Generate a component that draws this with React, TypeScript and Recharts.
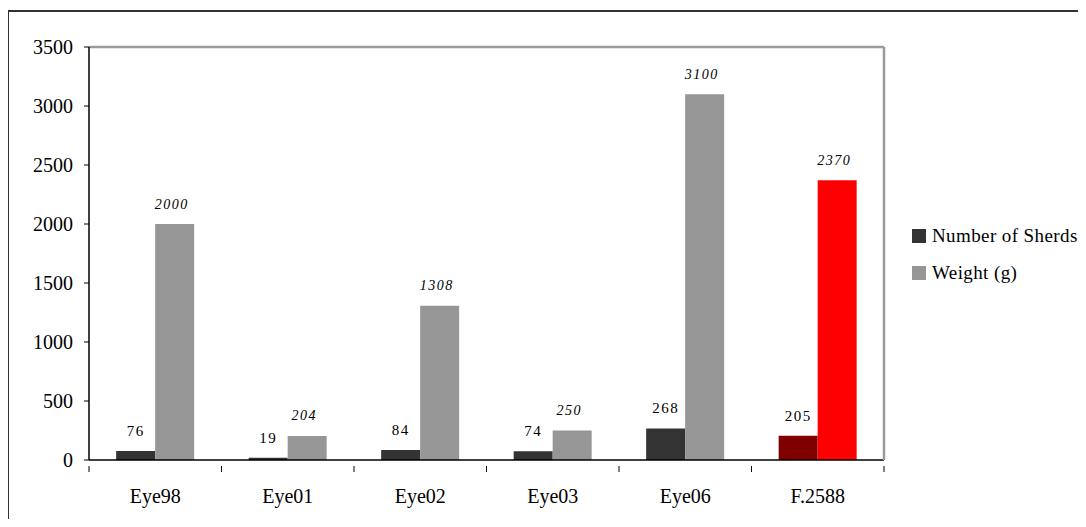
import React from 'react';
import {
  BarChart,
  Bar,
  XAxis,
  YAxis,
  Cell,
  Legend,
  LabelList,
  ReferenceLine,
} from 'recharts';

const sites = ['Eye98', 'Eye01', 'Eye02', 'Eye03', 'Eye06', 'F.2588'];
const sherdCounts = [76, 19, 84, 74, 268, 205];
const weights = [2000, 204, 1308, 250, 3100, 2370];
const yTicks = [0, 500, 1000, 1500, 2000, 2500, 3000, 3500];
const Y_MAX = 3500;

const data = sites.map((site, i) => ({
  site,
  sherds: sherdCounts[i],
  weight: weights[i],
}));

const SERIF = '"Liberation Serif", "Times New Roman", serif';
const DARK = '#333333';
const GRAY = '#969696';
const FRAME = '#9a9a9a';
// the last site is picked out in reds
const HIGHLIGHT_DARK = '#800000';
const HIGHLIGHT = '#ff0000';

interface ValueLabelProps {
  x?: number;
  y?: number;
  width?: number;
  value?: string | number;
}

const makeLabel =
  (italic: boolean, fontSize: number, dx: number) =>
  ({ x, y, width, value }: ValueLabelProps) => {
    if (x === undefined || y === undefined || width === undefined) return null;
    return (
      <text
        x={Number(x) + Number(width) / 2 + dx}
        y={Number(y) - 20}
        textAnchor="middle"
        dominantBaseline="central"
        fontFamily={SERIF}
        fontSize={fontSize}
        fontStyle={italic ? 'italic' : 'normal'}
        letterSpacing={1.5}
        fill="#000"
      >
        {value}
      </text>
    );
  };

const SherdLabel = makeLabel(false, 15, 0);
const WeightLabel = makeLabel(true, 14, -3);

interface SiteTickProps {
  x?: number;
  y?: number;
  index?: number;
  visibleTicksCount?: number;
  payload?: { value: string; offset?: number };
}

// category name under the band, with tick marks on the band edges
const SiteTick = ({ x, y, index, visibleTicksCount, payload }: SiteTickProps) => {
  if (x === undefined || y === undefined || !payload) return null;
  const half = payload.offset ?? 0;
  const isLast = index === (visibleTicksCount ?? 0) - 1;
  return (
    <g>
      <line x1={x - half} x2={x - half} y1={y} y2={y + 6} stroke="#000" />
      {isLast && <line x1={x + half} x2={x + half} y1={y} y2={y + 6} stroke="#000" />}
      <text
        x={x}
        y={y + 30}
        textAnchor="middle"
        dominantBaseline="central"
        fontFamily={SERIF}
        fontSize={20}
        fill="#000"
      >
        {payload.value}
      </text>
    </g>
  );
};

interface LegendEntry {
  value?: string;
  color?: string;
}

const SideLegend = ({ payload }: { payload?: LegendEntry[] }) => (
  <div style={{ fontFamily: SERIF, fontSize: 19, letterSpacing: 0.4 }}>
    {(payload ?? []).map((entry) => (
      <div
        key={entry.value}
        style={{ display: 'flex', alignItems: 'center', height: 37, whiteSpace: 'nowrap' }}
      >
        <span
          style={{
            display: 'inline-block',
            width: 14,
            height: 14,
            background: entry.color,
            marginRight: 6,
          }}
        />
        <span>{entry.value}</span>
      </div>
    ))}
  </div>
);

const App = () => {
  return (
    <div
      style={{
        marginLeft: -1,
        marginTop: 2,
        width: 1078,
        height: 509,
        boxSizing: 'border-box',
        borderTop: '2px solid #333',
        borderLeft: '2px solid #333',
        background: '#fff',
      }}
    >
      <BarChart
        width={1076}
        height={505}
        data={data}
        margin={{ top: 35, right: 200, left: 0, bottom: 27 }}
        barCategoryGap="20.5%"
        barGap={0}
      >
        <XAxis
          dataKey="site"
          height={30}
          interval={0}
          axisLine={{ stroke: '#000', strokeWidth: 1.5 }}
          tickLine={false}
          tickMargin={0}
          tick={<SiteTick />}
        />
        <YAxis
          width={80}
          domain={[0, Y_MAX]}
          ticks={yTicks}
          interval={0}
          tickSize={5}
          tickMargin={11}
          axisLine={{ stroke: '#000', strokeWidth: 1.5 }}
          tickLine={{ stroke: '#000' }}
          tick={{ fontFamily: SERIF, fontSize: 20, fill: '#000' }}
        />
        {/* right edge of the plot frame, same scale as the left axis */}
        <YAxis
          yAxisId="right"
          orientation="right"
          width={1}
          domain={[0, Y_MAX]}
          ticks={yTicks}
          tick={false}
          tickLine={false}
          axisLine={{ stroke: FRAME, strokeWidth: 2.5 }}
        />
        <ReferenceLine y={Y_MAX} stroke={FRAME} strokeWidth={2.5} />
        <Legend
          layout="vertical"
          align="center"
          verticalAlign="middle"
          wrapperStyle={{ left: 903, top: 205, width: 172 }}
          content={<SideLegend />}
        />
        <Bar dataKey="sherds" name="Number of Sherds" fill={DARK} isAnimationActive={false}>
          {data.map((d, i) => (
            <Cell key={d.site} fill={i === data.length - 1 ? HIGHLIGHT_DARK : DARK} />
          ))}
          <LabelList dataKey="sherds" content={<SherdLabel />} />
        </Bar>
        <Bar
          dataKey="weight"
          name="Weight (g)"
          yAxisId="right"
          fill={GRAY}
          isAnimationActive={false}
        >
          {data.map((d, i) => (
            <Cell key={d.site} fill={i === data.length - 1 ? HIGHLIGHT : GRAY} />
          ))}
          <LabelList dataKey="weight" content={<WeightLabel />} />
        </Bar>
      </BarChart>
    </div>
  );
};

export default App;
